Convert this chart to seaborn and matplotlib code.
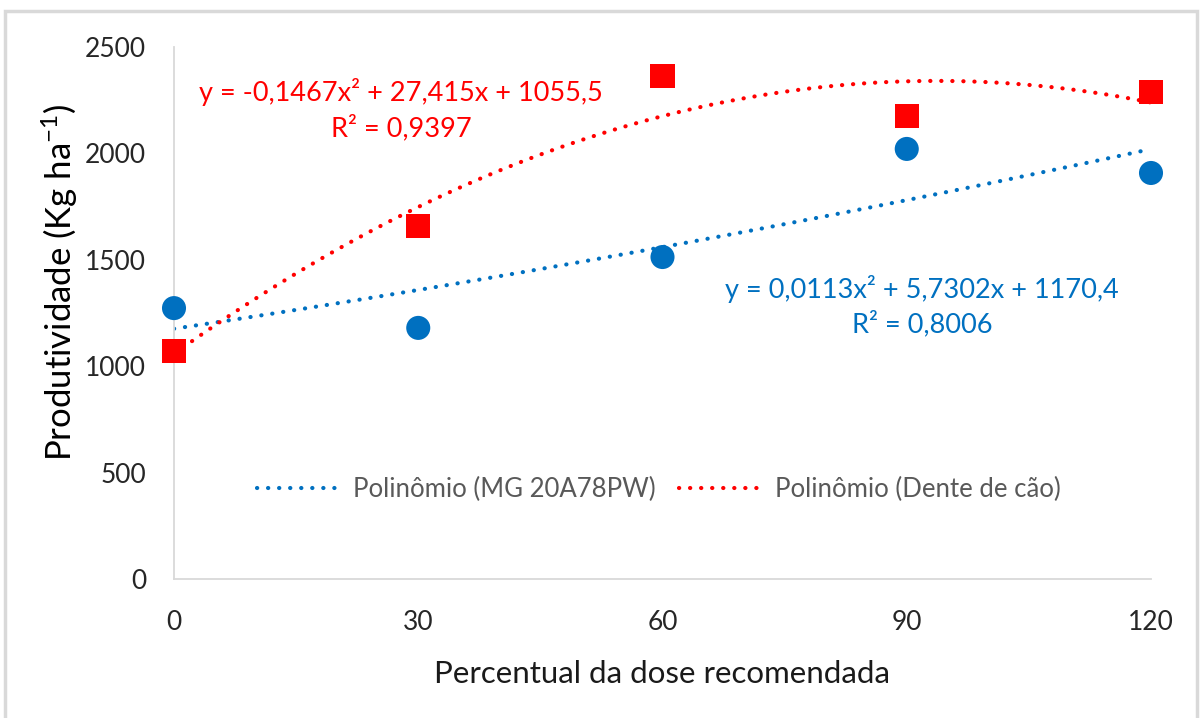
import numpy as np
import pandas as pd
import matplotlib
matplotlib.use("Agg")
import matplotlib.pyplot as plt
import seaborn as sns
from matplotlib.lines import Line2D
from matplotlib.patches import Rectangle

# ---- data ----
doses = [0, 30, 60, 90, 120]
mg_20a78pw = [1273, 1180, 1513, 2021, 1908]
dente_de_cao = [1071, 1659, 2364, 2176, 2289]
series_names = ["Polinômio (MG 20A78PW)", "Polinômio (Dente de cão)"]
eq_blue = ["y = 0,0113x² + 5,7302x + 1170,4", "R² = 0,8006"]
eq_red = ["y = -0,1467x² + 27,415x + 1055,5", "R² = 0,9397"]
y_ticks = [0, 500, 1000, 1500, 2000, 2500]
x_ticks = [0, 30, 60, 90, 120]

BLUE = "#0070C0"
RED = "#FF0000"

sns.set_theme(style="white")
plt.rcParams["font.family"] = ["Lato", "DejaVu Sans"]
plt.rcParams["mathtext.fontset"] = "custom"
plt.rcParams["mathtext.rm"] = "Lato"
plt.rcParams["mathtext.it"] = "Lato:italic"
plt.rcParams["mathtext.bf"] = "Lato:bold"

fig = plt.figure(figsize=(12, 7.18), dpi=100)
ax = fig.add_axes([174 / 1200, 1 - 579 / 718, (1151 - 174) / 1200, (579 - 47) / 718])

df = pd.DataFrame({"x": doses, "blue": mg_20a78pw, "red": dente_de_cao})

LW = 3.0
dot = (0, (0.05, 2.6))
sns.regplot(data=df, x="x", y="blue", order=2, ci=None, scatter=False, ax=ax,
            line_kws=dict(color=BLUE, lw=LW, linestyle=dot, dash_capstyle="round", zorder=2))
sns.regplot(data=df, x="x", y="red", order=2, ci=None, scatter=False, ax=ax,
            line_kws=dict(color=RED, lw=LW, linestyle=dot, dash_capstyle="round", zorder=2))

sns.scatterplot(data=df, x="x", y="blue", marker="o", s=300, color=BLUE,
                edgecolor="none", ax=ax, zorder=3, clip_on=False)
sns.scatterplot(data=df, x="x", y="red", marker="s", s=300, color=RED,
                edgecolor="none", ax=ax, zorder=3, clip_on=False)

ax.set_xlim(0, 120)
ax.set_ylim(0, 2500)
ax.set_xticks(x_ticks)
ax.set_yticks(y_ticks)
ax.tick_params(axis="both", length=0, labelsize=19, colors="#262626")
ax.tick_params(axis="x", pad=22)
ax.tick_params(axis="y", pad=20)

for s in ["top", "right"]:
    ax.spines[s].set_visible(False)
for s in ["left", "bottom"]:
    ax.spines[s].set_color("#D9D9D9")
    ax.spines[s].set_linewidth(1.3)

ax.set_xlabel("Percentual da dose recomendada", fontsize=22.5, color="#1a1a1a", labelpad=18)
ax.set_ylabel(r"Produtividade (Kg ha$^{-1}$)", fontsize=25, color="#000000")
ax.yaxis.set_label_coords((80 - 174) / 977, (579 - 282) / 532)

# equations
fig.text(401 / 1200, 1 - 92 / 718, eq_red[0], ha="center", va="center", fontsize=19.5, color=RED)
fig.text(401 / 1200, 1 - 128 / 718, eq_red[1], ha="center", va="center", fontsize=19.5, color=RED)
fig.text(922 / 1200, 1 - 289 / 718, eq_blue[0], ha="center", va="center", fontsize=19.5, color=BLUE)
fig.text(922 / 1200, 1 - 324 / 718, eq_blue[1], ha="center", va="center", fontsize=19.5, color=BLUE)

handles = [Line2D([0], [0], color=BLUE, lw=LW, linestyle=dot, dash_capstyle="round"),
           Line2D([0], [0], color=RED, lw=LW, linestyle=dot, dash_capstyle="round")]
leg = fig.legend(handles, series_names, loc="center", bbox_to_anchor=(659 / 1200, 1 - 489 / 718),
                 ncol=2, frameon=False, fontsize=18.5, handlelength=3.3, columnspacing=0.9,
                 handletextpad=0.45)
for t in leg.get_texts():
    t.set_color("#595959")

# chart area border
fig.patches.append(Rectangle((5 / 1200, -0.02), (1197 - 5) / 1200, 1 - 11 / 718 + 0.02,
                             transform=fig.transFigure, fill=False, edgecolor="#D9D9D9",
                             lw=2.5, zorder=0))

fig.savefig("out.png", dpi=100, facecolor="white")
